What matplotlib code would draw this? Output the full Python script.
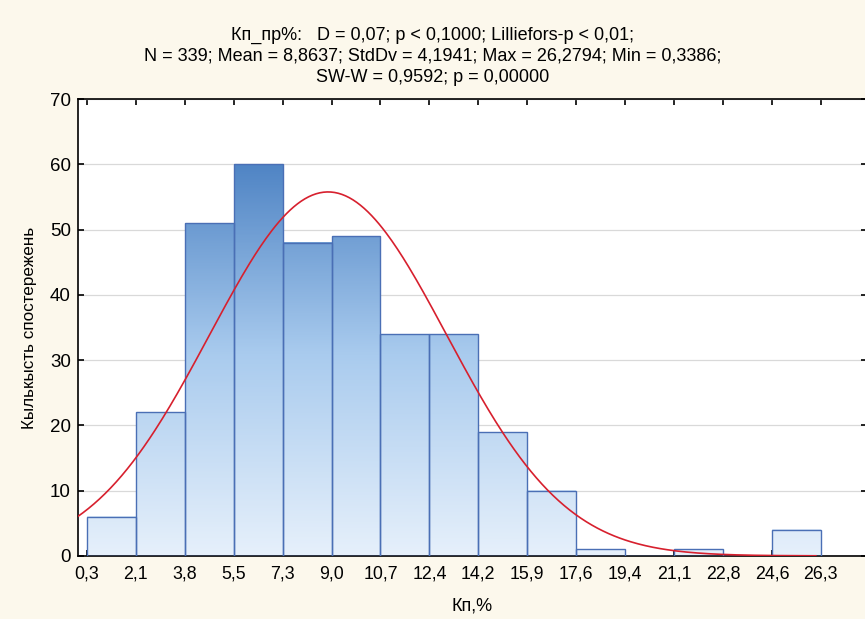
import numpy as np
import matplotlib
matplotlib.use("Agg")
import matplotlib.pyplot as plt
from matplotlib.colors import LinearSegmentedColormap

plt.rcParams['font.family'] = ['Liberation Sans', 'DejaVu Sans']

# данные гистограммы
edges = [0.3386, 2.0680, 3.7974, 5.5267, 7.2561, 8.9855, 10.7149, 12.4443,
         14.1737, 15.9031, 17.6325, 19.3618, 21.0912, 22.8206, 24.5500, 26.2794]
tick_labels = ['0,3', '2,1', '3,8', '5,5', '7,3', '9,0', '10,7', '12,4', '14,2',
               '15,9', '17,6', '19,4', '21,1', '22,8', '24,6', '26,3']
counts = [6, 22, 51, 60, 48, 49, 34, 34, 19, 10, 1, 0, 1, 0, 4]
n_obs = 339
mean = 8.8637
std = 4.1941

title = ("Кп_пр%:   D = 0,07; p < 0,1000; Lilliefors-p < 0,01;\n"
         "N = 339; Mean = 8,8637; StdDv = 4,1941; Max = 26,2794; Min = 0,3386;\n"
         "SW-W = 0,9592; p = 0,00000")

fig = plt.figure(figsize=(8.65, 6.19), dpi=100, facecolor='#fcf8ec')
ax = fig.add_axes([0.090, 0.102, 0.912, 0.738])
ax.set_facecolor('white')

cmap = LinearSegmentedColormap.from_list('bl', ['#e6f0fb', '#a9cbee', '#4a80c2'])
edges = np.array(edges)
width = edges[1] - edges[0]

# столбцы с градиентом
for left, right, c in zip(edges[:-1], edges[1:], counts):
    if c == 0:
        continue
    grad = np.linspace(0, c, 200).reshape(-1, 1)
    ax.imshow(grad, extent=[left, right, 0, c], origin='lower', aspect='auto',
              cmap=cmap, vmin=0, vmax=62, zorder=2, interpolation='bilinear')
ax.bar(edges[:-1], counts, width=width, align='edge', facecolor='none',
       edgecolor='#4a6fb5', linewidth=1.0, zorder=3)

# нормальная кривая
xs = np.linspace(0.0, 26.1, 400)
ys = n_obs * width / (std * np.sqrt(2 * np.pi)) * np.exp(-0.5 * ((xs - mean) / std) ** 2)
ax.plot(xs, ys, color='#d7202e', linewidth=1.2, zorder=4)

ax.set_xlim(0.02, 27.9)
ax.set_ylim(0, 70)
ax.set_xticks(edges)
ax.set_xticklabels(tick_labels)
ax.set_yticks(range(0, 71, 10))
ax.yaxis.grid(True, color='#d9d9d9', linewidth=0.9, zorder=0)
ax.set_axisbelow(True)
ax.tick_params(axis='both', direction='in', length=4, width=1.2,
               top=True, right=True, labeltop=False, labelright=False)
ax.tick_params(axis='x', pad=7, labelsize=12.8)
ax.tick_params(axis='y', pad=5, labelsize=13.5)
for s in ax.spines.values():
    s.set_linewidth(1.2)

ax.set_xlabel('Кп,%', fontsize=13, labelpad=11)
ax.set_ylabel('Кылькысть спостережень', fontsize=12.3, labelpad=9)
fig.text(0.5, 0.957, title, ha='center', va='top', fontsize=13, linespacing=1.3)

fig.savefig('out.png', dpi=100, facecolor=fig.get_facecolor())
